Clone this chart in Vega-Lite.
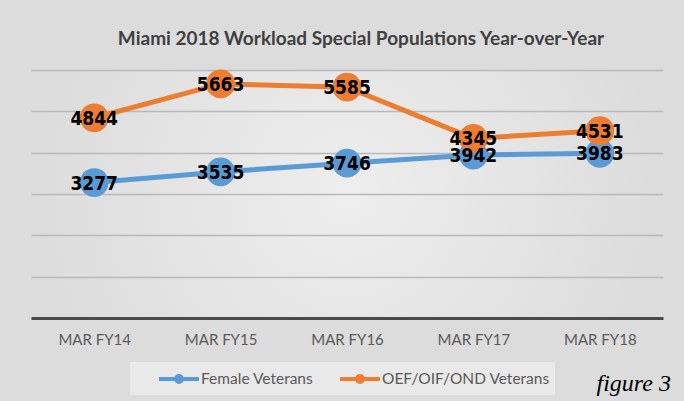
{
  "$schema": "https://vega.github.io/schema/vega-lite/v6.json",
  "width": 632,
  "height": 248,
  "autosize": {"type": "none"},
  "padding": {"left": 31, "top": 70, "right": 21, "bottom": 83},
  "background": "#dcdcdc",
  "title": {
    "text": "Miami 2018 Workload Special Populations Year-over-Year",
    "font": "Lato",
    "fontSize": 19,
    "fontWeight": "bold",
    "color": "#404040",
    "anchor": "middle",
    "dx": 14,
    "offset": 21
  },
  "data": {
    "values": [
      {"period": "MAR FY14", "series": "Female Veterans", "value": 3277},
      {"period": "MAR FY15", "series": "Female Veterans", "value": 3535},
      {"period": "MAR FY16", "series": "Female Veterans", "value": 3746},
      {"period": "MAR FY17", "series": "Female Veterans", "value": 3942},
      {"period": "MAR FY18", "series": "Female Veterans", "value": 3983},
      {"period": "MAR FY14", "series": "OEF/OIF/OND Veterans", "value": 4844},
      {"period": "MAR FY15", "series": "OEF/OIF/OND Veterans", "value": 5663},
      {"period": "MAR FY16", "series": "OEF/OIF/OND Veterans", "value": 5585},
      {"period": "MAR FY17", "series": "OEF/OIF/OND Veterans", "value": 4345},
      {"period": "MAR FY18", "series": "OEF/OIF/OND Veterans", "value": 4531}
    ]
  },
  "encoding": {
    "x": {
      "field": "period",
      "type": "nominal",
      "sort": null,
      "scale": {"type": "point", "padding": 0.5},
      "axis": {
        "title": null,
        "labelAngle": 0,
        "labelFont": "Lato",
        "labelFontSize": 15,
        "labelColor": "#595959",
        "labelPadding": 14,
        "ticks": false,
        "domain": true,
        "domainColor": "#4a4a4a",
        "domainWidth": 3,
        "grid": false
      }
    },
    "y": {
      "field": "value",
      "type": "quantitative",
      "scale": {"domain": [0, 6000], "nice": false, "zero": true},
      "axis": {
        "title": "figure 3",
        "titleAngle": 0,
        "titleX": 565,
        "titleY": 320,
        "titleAlign": "left",
        "titleBaseline": "alphabetic",
        "titleFont": "Liberation Serif",
        "titleFontStyle": "italic",
        "titleFontWeight": "normal",
        "titleFontSize": 24,
        "titleColor": "#000000",
        "labels": false,
        "ticks": false,
        "domain": false,
        "grid": true,
        "gridColor": "#b8b8b8",
        "gridWidth": 1.5,
        "values": [1000, 2000, 3000, 4000, 5000, 6000]
      }
    },
    "color": {
      "field": "series",
      "type": "nominal",
      "scale": {
        "domain": ["Female Veterans", "OEF/OIF/OND Veterans"],
        "range": ["#5B9BD5", "#ED7D31"]
      },
      "legend": {
        "title": null,
        "orient": "none",
        "legendX": 99,
        "legendY": 292,
        "direction": "horizontal",
        "fillColor": "#e9e9e9",
        "padding": 5,
        "symbolType": "M-2,0H2M-0.3,0A0.3,0.3,0,1,1,0.3,0A0.3,0.3,0,1,1,-0.3,0",
        "symbolSize": 400,
        "symbolStrokeWidth": 4,
        "symbolOffset": 32,
        "columnPadding": 2,
        "labelOffset": 10,
        "labelLimit": 300,
        "labelFont": "Lato",
        "labelFontSize": 15.5,
        "labelColor": "#595959",
        "encode": {
          "symbols": {
            "update": {
              "fill": {"scale": "color", "field": "value"},
              "stroke": {"scale": "color", "field": "value"},
              "opacity": {"value": 1}
            }
          }
        }
      }
    }
  },
  "layer": [
    {"mark": {"type": "line", "strokeWidth": 5}},
    {"mark": {"type": "circle", "size": 830, "opacity": 1}},
    {
      "mark": {
        "type": "text",
        "font": "DejaVu Sans Condensed",
        "fontWeight": "bold",
        "fontSize": 19,
        "color": "#000000",
        "baseline": "middle",
        "dy": 1
      },
      "encoding": {
        "text": {"field": "value", "type": "quantitative", "format": "d"},
        "color": {"value": "#000000"}
      }
    }
  ],
  "config": {
    "view": {
      "stroke": null,
      "fill": {
        "gradient": "radial",
        "stops": [
          {"offset": 0, "color": "#eeeeee"},
          {"offset": 1, "color": "#dcdcdc"}
        ]
      }
    }
  }
}
